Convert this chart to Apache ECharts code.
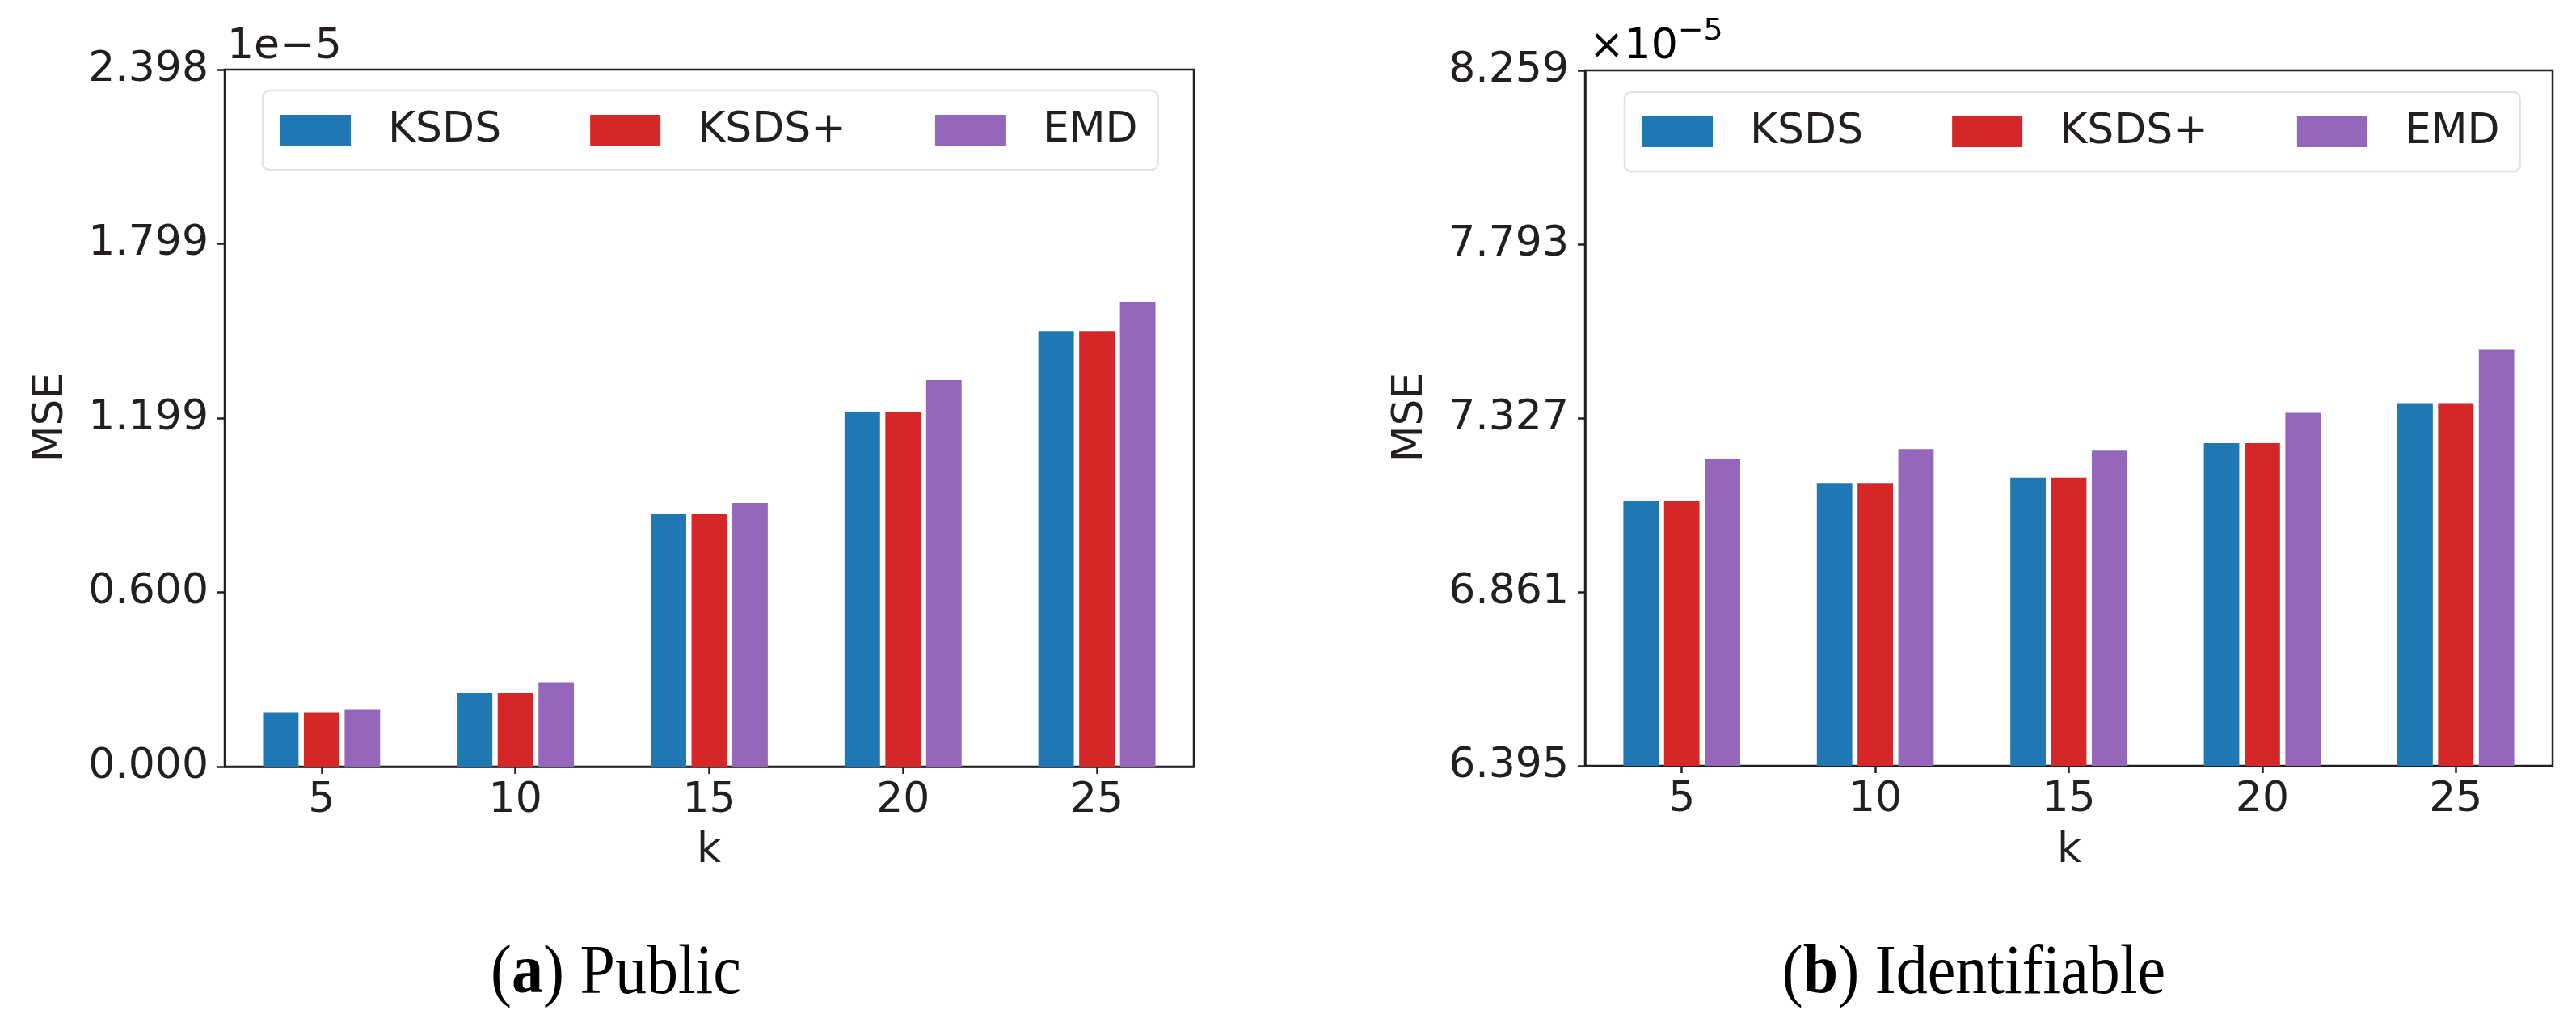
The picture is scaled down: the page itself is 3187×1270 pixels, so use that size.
<!DOCTYPE html>
<html><head><meta charset="utf-8">
<script src="https://cdn.jsdelivr.net/npm/echarts@6/dist/echarts.min.js"></script>
<style>html,body{margin:0;background:#fff}#c{width:3187px;height:1270px}</style>
</head><body><div id="c"></div>
<script>
// ---- data (values in units of 1e-5) ----
const categories = ['5', '10', '15', '20', '25'];
const seriesNames = ['KSDS', 'KSDS+', 'EMD'];
const publicKSDS = [0.185, 0.253, 0.868, 1.220, 1.499];
const publicKSDSPlus = [0.185, 0.253, 0.868, 1.220, 1.499];
const publicEMD = [0.196, 0.291, 0.907, 1.330, 1.599];
const identKSDS = [7.105, 7.153, 7.167, 7.260, 7.367];
const identKSDSPlus = [7.105, 7.153, 7.167, 7.260, 7.367];
const identEMD = [7.218, 7.244, 7.240, 7.341, 7.510];
const publicTicks = ['0.000', '0.600', '1.199', '1.799', '2.398'];
const identTicks = ['6.395', '6.861', '7.327', '7.793', '8.259'];

const colors = ['#1f77b4', '#d62728', '#9467bd'];
const ink = '#231f20';
const FONT = 'DejaVu Sans';
const FS = 52;

function yAxisFor(ticks, gridIndex) {
  const min = parseFloat(ticks[0]);
  const max = parseFloat(ticks[ticks.length - 1]);
  const interval = (max - min) / (ticks.length - 1);
  return {
    type: 'value', gridIndex, min, max, interval,
    axisLine: { show: true, lineStyle: { color: ink, width: 2.5 } },
    axisTick: { show: true, inside: false, length: 9, lineStyle: { color: ink, width: 2.5 } },
    axisLabel: {
      margin: 20, color: ink, fontFamily: FONT, fontSize: FS,
      formatter: v => ticks[Math.round((v - min) / interval)]
    },
    splitLine: { show: false }
  };
}
function xAxisFor(gridIndex) {
  return {
    type: 'category', gridIndex, data: categories,
    axisLine: { show: true, lineStyle: { color: ink, width: 2.5 } },
    axisTick: { show: true, alignWithLabel: true, length: 9, lineStyle: { color: ink, width: 2.5 } },
    axisLabel: { margin: 16, color: ink, fontFamily: FONT, fontSize: FS },
    splitLine: { show: false }
  };
}
function barsFor(arrays, idx) {
  return arrays.map((d, i) => ({
    type: 'bar', name: seriesNames[i], xAxisIndex: idx, yAxisIndex: idx,
    data: d, barWidth: '18.3%', barGap: '15%',
    itemStyle: { color: colors[i] }, animation: false
  }));
}
function legendFor(left, top) {
  return {
    show: true, orient: 'horizontal', left, top,
    data: seriesNames, icon: 'rect', itemWidth: 87, itemHeight: 38, itemGap: 110,
    padding: [23, 25, 23, 22],
    borderColor: '#e3e3e3', borderWidth: 2.5, borderRadius: 8, backgroundColor: '#fff',
    textStyle: { color: ink, fontFamily: FONT, fontSize: FS, padding: [0, 0, 0, 41] },
    selectedMode: false
  };
}
function txt(text, x, y, extra) {
  return {
    type: 'text', silent: true,
    style: Object.assign({ text, x, y, fill: ink, font: FS + 'px "' + FONT + '"',
      align: 'center', verticalAlign: 'middle', textAlign: 'center', textVerticalAlign: 'middle' }, extra || {})
  };
}
function vtxt(text, x, y) {
  return {
    type: 'text', silent: true, x, y, rotation: Math.PI / 2,
    style: { text, x: 0, y: 0, fill: ink, font: FS + 'px "' + FONT + '"',
      align: 'center', verticalAlign: 'middle', textAlign: 'center', textVerticalAlign: 'middle' }
  };
}

const chart = echarts.init(document.getElementById('c'), null, { renderer: 'canvas' });
const capRich = {
  n: { fontFamily: 'Liberation Serif', fontSize: 78, color: ink },
  b: { fontFamily: 'Liberation Serif', fontSize: 78, fontWeight: 'bold', color: ink }
};
chart.setOption({
  backgroundColor: '#fff',
  animation: false,
  grid: [
    { left: 278, top: 86, width: 1199, height: 862, show: true, borderColor: ink, borderWidth: 2.5, containLabel: false },
    { left: 1961, top: 87, width: 1197, height: 860, show: true, borderColor: ink, borderWidth: 2.5, containLabel: false }
  ],
  xAxis: [xAxisFor(0), xAxisFor(1)],
  yAxis: [yAxisFor(publicTicks, 0), yAxisFor(identTicks, 1)],
  legend: [legendFor(325, 112), legendFor(2010, 114)],
  series: [
    ...barsFor([publicKSDS, publicKSDSPlus, publicEMD], 0),
    ...barsFor([identKSDS, identKSDSPlus, identEMD], 1)
  ],
  graphic: [
    vtxt('MSE', 63, 516),
    vtxt('MSE', 1745, 516),
    txt('k', 877, 1052),
    txt('k', 2560, 1052),
    txt('1e\u22125', 281, 84, { align: 'left', textAlign: 'left', verticalAlign: 'bottom', textVerticalAlign: 'bottom' }),
    {
      type: 'text', silent: true,
      style: {
        x: 1966, y: 84, text: '{a|\u00d710}{s|\u22125}',
        align: 'left', verticalAlign: 'bottom',
        rich: {
          a: { fontFamily: FONT, fontSize: FS, color: ink, verticalAlign: 'bottom', lineHeight: 64 },
          s: { fontFamily: FONT, fontSize: 38, color: ink, verticalAlign: 'top', lineHeight: 64 }
        }
      }
    },
    {
      type: 'text', silent: true, x: 762, y: 1205, scaleY: 1.1,
      style: { x: 0, y: 0, text: '{n|(}{b|a}{n|) Public}', align: 'center', verticalAlign: 'middle', rich: capRich }
    },
    {
      type: 'text', silent: true, x: 2442, y: 1205, scaleY: 1.1,
      style: { x: 0, y: 0, text: '{n|(}{b|b}{n|) Identifiable}', align: 'center', verticalAlign: 'middle', rich: capRich }
    }
  ]
});
</script>
</body></html>
